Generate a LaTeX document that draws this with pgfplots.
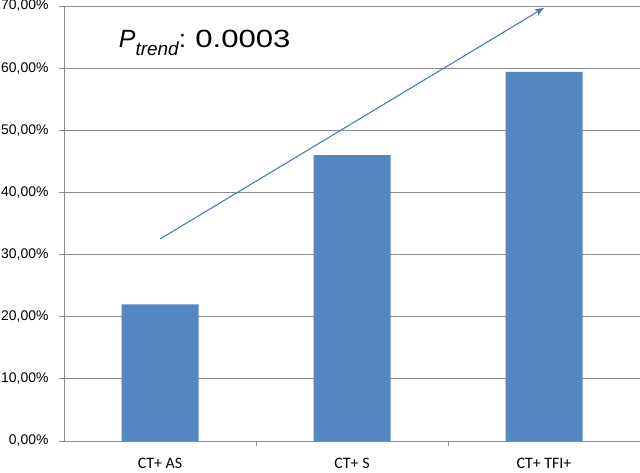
\documentclass[border=0pt]{standalone}
\usepackage{pgfplots}
\pgfplotsset{compat=1.18}
\usepackage{fontspec}
\setmainfont{Liberation Sans}
\newfontfamily\calibri{Carlito}
\usetikzlibrary{arrows.meta}
\definecolor{barblue}{RGB}{84,134,194}
\definecolor{arrowblue}{RGB}{74,124,184}
\definecolor{gridgray}{RGB}{140,140,140}
\begin{document}
\begin{tikzpicture}
\begin{axis}[
  at={(0,0)}, anchor=south west,
  scale only axis,
  width=576bp, height=435bp,
  xmin=-0.5, xmax=2.5,
  ymin=0, ymax=70,
  axis x line*=bottom, axis y line*=left,
  axis line style={gridgray, line width=0.8bp},
  ytick={0,10,20,30,40,50,60,70},
  yticklabels={{0,00\%},{10,00\%},{20,00\%},{30,00\%},{40,00\%},{50,00\%},{60,00\%},{70,00\%}},
  yticklabel style={font=\fontsize{14}{16}\selectfont, xshift=-7bp},
  xtick={0,1,2},
  xticklabels={CT+ AS, CT+ S, CT+ TFI+},
  xticklabel style={font=\calibri\fontsize{16}{18}\selectfont, yshift=-9bp},
  x tick style={draw=none},
  y tick style={gridgray, line width=0.8bp},
  tick align=outside,
  major tick length=5bp,
  extra x ticks={0.5,1.5},
  extra x tick labels={},
  extra x tick style={grid=none, x tick style={draw=gridgray, line width=0.8bp}, major tick length=5bp},
  ymajorgrids,
  grid style={gridgray, line width=0.8bp},
  ybar, bar width=77bp,
  clip=false,
]
\addplot[fill=barblue, draw=none] coordinates {(0,22.0) (1,46.0) (2,59.4)};
\addplot[sharp plot, arrowblue, line width=1.1bp, -{Stealth[length=9bp,width=7bp,inset=2bp]}, forget plot] coordinates {(0,32.5) (2,69.7)};
\node[anchor=base west, inner sep=0pt] at (axis cs:-0.215,63.4)
  {\fontsize{25}{30}\selectfont\textit{P}\raisebox{-8bp}{\fontsize{19}{22}\selectfont\textit{trend}}: \scalebox{1.25}[1]{0.0003}};
\end{axis}
\pgfresetboundingbox
\path[use as bounding box] (-64bp,-32bp) rectangle (576bp,441bp);
\end{tikzpicture}
\end{document}
